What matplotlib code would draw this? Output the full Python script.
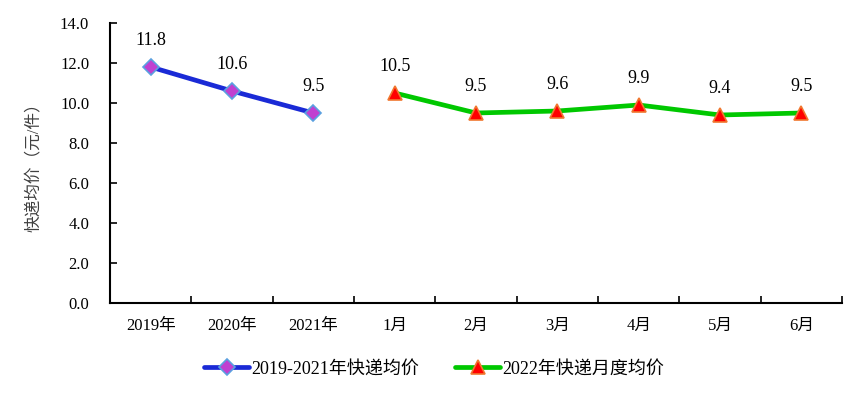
import matplotlib
matplotlib.use("Agg")
import matplotlib.pyplot as plt
import numpy as np

categories = ["2019年", "2020年", "2021年", "1月", "2月", "3月", "4月", "5月", "6月"]
yearly_labels = ["2019年", "2020年", "2021年"]
yearly_values = [11.8, 10.6, 9.5]
monthly_labels = ["1月", "2月", "3月", "4月", "5月", "6月"]
monthly_values = [10.5, 9.5, 9.6, 9.9, 9.4, 9.5]
yearly_name = "2019-2021年快递均价"
monthly_name = "2022年快递月度均价"
ylabel = "快递均价（元/件）"

plt.rcParams['font.family'] = ['Liberation Serif', 'Noto Sans CJK SC', 'DejaVu Sans']

fig = plt.figure(figsize=(8.65, 3.99), dpi=100)
ax = fig.add_axes([110/865, 1-303/399, (842-110)/865, (303-23)/399])

x_all = np.arange(len(categories))
x_year = [categories.index(c) for c in yearly_labels]
x_month = [categories.index(c) for c in monthly_labels]

ax.plot(x_year, yearly_values, color="#1a2ad6", lw=3.4, marker="D", markersize=8,
        markerfacecolor="#c040d0", markeredgecolor="#5aa0e0", markeredgewidth=1.2,
        label=yearly_name, solid_capstyle="round", zorder=3)
ax.plot(x_month, monthly_values, color="#00c800", lw=3.4, marker="^", markersize=10,
        markerfacecolor="#ff0000", markeredgecolor="#f07830", markeredgewidth=1.2,
        label=monthly_name, solid_capstyle="round", zorder=3)

for xs, vs in ((x_year, yearly_values), (x_month, monthly_values)):
    for xi, v in zip(xs, vs):
        ax.annotate(f"{v:.1f}", (xi, v), xytext=(0, 19), textcoords="offset points",
                    ha="center", va="center", fontsize=13, color="black")

ax.set_xlim(-0.5, len(categories) - 0.5)
ax.set_ylim(0, 14)
yt = np.arange(0, 14.1, 2)
ax.set_yticks(yt)
ax.set_yticklabels([f"{v:.1f}" for v in yt], fontsize=12)
ax.set_xticks(x_all)
ax.set_xticklabels(categories, fontsize=12)
ax.set_xticks(np.arange(-0.5, len(categories), 1), minor=True)
ax.tick_params(axis="x", which="major", length=0, pad=11)
ax.tick_params(axis="x", which="minor", direction="in", length=5, width=1.2)
ax.tick_params(axis="y", direction="in", length=5, width=1.2, pad=15)

for s in ("top", "right"):
    ax.spines[s].set_visible(False)
for s in ("left", "bottom"):
    ax.spines[s].set_linewidth(1.5)

ax.set_ylabel(ylabel, fontsize=12, color="#404040")
ax.yaxis.set_label_coords((42-110)/732, 0.5)

fig.legend(loc="center", bbox_to_anchor=(434/865, 1-369/399), ncol=2, frameon=False,
           fontsize=13, handlelength=2.5, handletextpad=0.1, columnspacing=2.0)

fig.savefig("out.png", dpi=100)
